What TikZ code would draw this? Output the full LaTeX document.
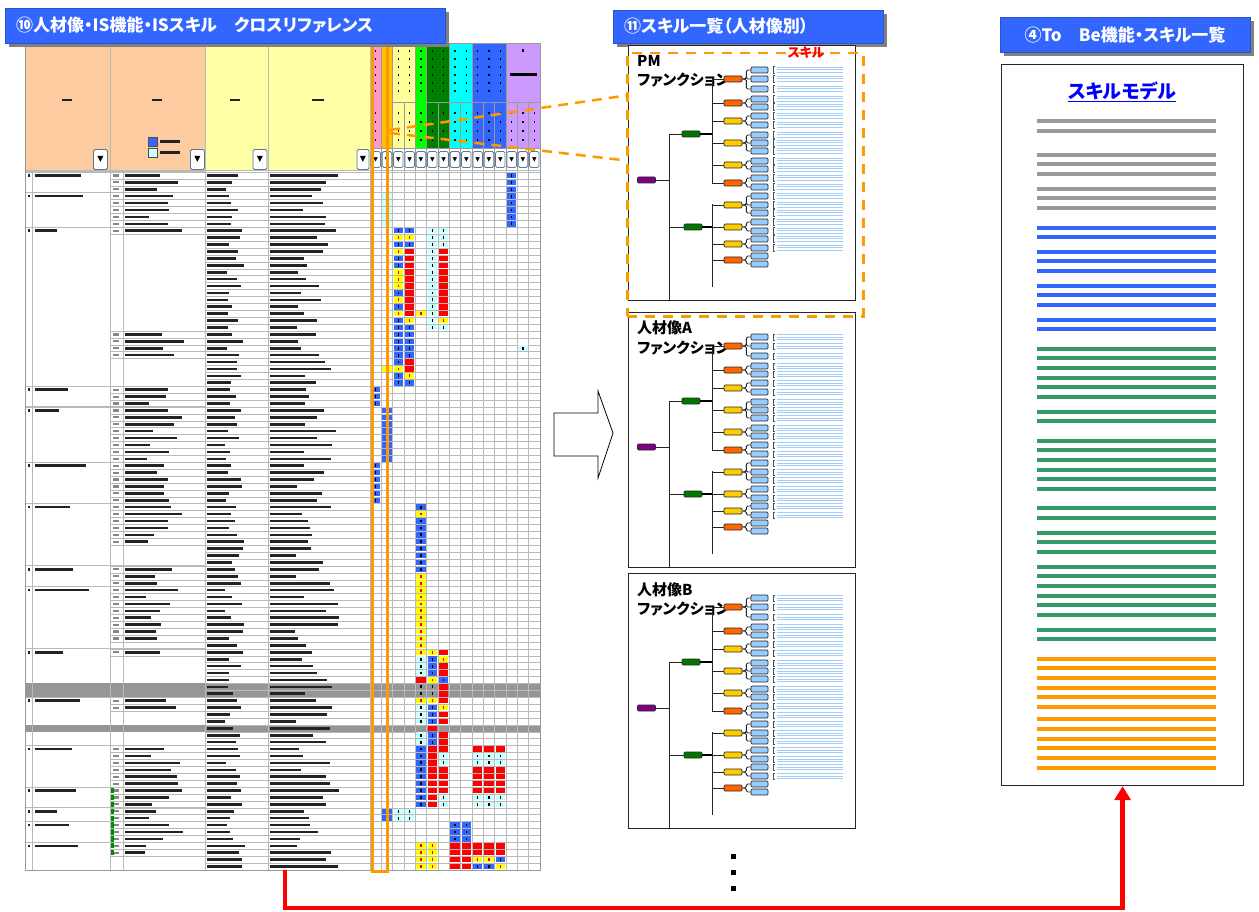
\documentclass[tikz,border=0pt]{standalone}
\usepackage{fontspec}
\newfontfamily\jp{Noto Sans CJK JP}[RawFeature=+palt]
\newfontfamily\dv{DejaVu Sans}
\usetikzlibrary{arrows.meta,shadows}
\definecolor{bnblue}{RGB}{51,102,255}
\definecolor{shgray}{RGB}{128,128,128}
\definecolor{peach}{RGB}{252,204,160}
\definecolor{pyel}{RGB}{255,255,165}
\definecolor{hpink}{RGB}{255,153,204}
\definecolor{hgold}{RGB}{255,192,0}
\definecolor{hlyel}{RGB}{255,255,153}
\definecolor{hbgreen}{RGB}{0,255,0}
\definecolor{hdgreen}{RGB}{0,128,0}
\definecolor{hcyan}{RGB}{0,255,255}
\definecolor{hblue}{RGB}{51,102,255}
\definecolor{hlav}{RGB}{204,153,255}
\definecolor{cblue}{RGB}{51,102,255}
\definecolor{cyel}{RGB}{255,255,0}
\definecolor{cred}{RGB}{255,0,0}
\definecolor{ccyan}{RGB}{204,255,255}
\definecolor{hiorange}{RGB}{255,153,0}
\definecolor{gridc}{RGB}{185,185,185}
\definecolor{bandg}{RGB}{150,150,150}
\definecolor{txtc}{RGB}{35,35,35}
\definecolor{tpurple}{RGB}{128,0,128}
\definecolor{tgreen}{RGB}{0,120,0}
\definecolor{torange}{RGB}{255,102,0}
\definecolor{tyellow}{RGB}{255,204,0}
\definecolor{tleaf}{RGB}{153,204,255}
\definecolor{tline}{RGB}{160,205,250}
\definecolor{lgray}{RGB}{153,153,153}
\definecolor{lblue}{RGB}{51,102,255}
\definecolor{lgreen}{RGB}{51,153,102}
\definecolor{lorange}{RGB}{255,153,0}
\definecolor{titleblue}{RGB}{0,0,255}
\definecolor{btnborder}{RGB}{90,120,150}

\newcommand\tbar[3]{\fill[txtc] (#1,{#2-1.3}) rectangle ({#1+#3},{#2+1.3});}
\newcommand\cellat[3]{%
  \def\tmpf{white}\def\tmpd{black}%
  \if#3B\def\tmpf{cblue}\fi
  \if#3Y\def\tmpf{cyel}\def\tmpd{red}\fi
  \if#3R\def\tmpf{cred}\def\tmpd{cred}\fi
  \if#3C\def\tmpf{ccyan}\fi
  \if#3G\def\tmpf{bandg}\fi
  \fill[fill=\tmpf] ({370+#2*11.333+0.9},{172+#1*6.911+0.7}) rectangle ({370+(#2+1)*11.333-0.9},{172+(#1+1)*6.911-0.7});
  \fill[fill=\tmpd] ({370+(#2+0.5)*11.333-0.8},{172+(#1+0.5)*6.911-1.4}) rectangle ({370+(#2+0.5)*11.333+0.8},{172+(#1+0.5)*6.911+1.4});}

\newcommand\skilltree[3]{%
\begin{scope}[shift={(628,#2)}]
\node[tlabel,anchor=base west] (#1la) at (9,22) {#3};
\node[tlabel,anchor=base west] (#1lb) at (9,41) {ファンクション};
\coordinate (#1tt) at (41,89);
\coordinate (#1tb) at (41,255);
\coordinate (#1at) at (84,34);
\coordinate (#1ab) at (84,138);
\coordinate (#1bt) at (84,159);
\coordinate (#1bb) at (84,242);
\node[tnode,fill=tpurple] (#1r) at (18.5,135) {};
\node[tnode,fill=tgreen] (#1g1) at (63,89) {};
\node[tnode,fill=tgreen] (#1g2) at (65,182) {};
\draw[tconn] (#1tt) -- (#1tb);
\draw[tconn] (#1r.east) -- (#1r.east -| #1tt);
\draw[tconn] (#1tt) -- (#1g1.west);
\draw[tconn] (#1g2.west -| #1tt) -- (#1g2.west);
\draw[tconn] (#1at) -- (#1ab);
\draw[tconn] (#1bt) -- (#1bb);
\draw[tthick] (#1g1.east) -- (#1g1.east -| #1at);
\draw[tthick] (#1g2.east) -- (#1g2.east -| #1bt);
\foreach \i/\yy/\cc in {1/34/torange,2/58/torange,3/76/tyellow,4/98/tyellow,5/120/tyellow,6/138/torange,7/160/tyellow,8/182/tyellow,9/199/tyellow,10/215/torange}{%
  \node[tnode,fill=\cc] (#1n\i) at (105,\yy) {};
  \draw[tconn] (#1n\i.west -| #1at) -- (#1n\i.west);
}
\foreach \kk/\pp/\yy in {1/1/25,2/1/34,3/1/44,4/2/54,5/2/62,6/3/71,7/3/80,8/4/90,9/4/98,10/4/106,11/5/116,12/5/124,13/6/133,14/6/142,15/7/151,16/7/160,17/7/168,18/8/177,19/8/186,20/9/194,21/9/203,22/10/211,23/10/219}{%
  \draw[tconn,rounded corners=1.5pt] (#1n\pp.east) -- ++(4,0) |- (131.5-8.5,\yy);
  \node[tleafn] (#1f\kk) at (131.5,\yy) {};
}
\foreach \yy in {25,34,44,54,62,71,80,90,98,106,116,124,133,142,151,160,168,177,186,194,203}{%
  \draw[black!70,line width=0.6pt] (147,\yy-3.2) -- (145,\yy-3.2) -- (145,\yy+3.2) -- (147,\yy+3.2);
  \foreach \dy in {0,2.6,5.2}{\draw[tline,line width=1pt] (149,\yy-2.6+\dy) -- (215,\yy-2.6+\dy);}
}
\end{scope}}

\begin{document}
\begin{tikzpicture}[x=1pt,y=-1pt,
  banner/.style={fill=bnblue,draw=bnblue!80!black,line width=0.5pt,drop shadow={shadow xshift=4pt,shadow yshift=-4pt,fill=shgray,opacity=1},anchor=north west,inner sep=0},
  btext/.style={text=white,font=\jp\bfseries\fontsize{17}{17}\selectfont,inner sep=0},
  panel/.style={draw=black!85,line width=1pt,fill=white,anchor=north west,minimum width=227pt,minimum height=255pt,inner sep=0},
  tnode/.style={draw=black!85,line width=0.7pt,rounded corners=1.2pt,minimum width=18pt,minimum height=6pt,inner sep=0},
  tleafn/.style={tnode,fill=tleaf,minimum width=17pt},
  tconn/.style={draw=black!85,line width=0.9pt},
  tthick/.style={draw=black,line width=1.6pt},
  tlabel/.style={font=\jp\bfseries\fontsize{15}{15}\selectfont,inner sep=0},
  ddbtn/.style={draw=btnborder,fill=white,rounded corners=1.5pt,line width=0.8pt,inner sep=0,font=\dv\fontsize{6}{6}\selectfont},
  odash/.style={draw=hiorange,line width=2.5pt,dash pattern=on 10pt off 7pt},
  skl/.style={line width=3.5pt}
]
\useasboundingbox (0,0) rectangle (1259,912);
\fill[white] (0,0) rectangle (1259,912);

% ===== cross-reference sheet =====
\fill[peach] (25,43) rectangle (205,171);
\fill[pyel] (205,43) rectangle (370,171);
\foreach \k/\cc in {0/hpink,1/hgold,2/hlyel,3/hlyel,4/hbgreen,5/hdgreen,6/hdgreen,7/hcyan,8/hcyan,9/hblue,10/hblue,11/hblue,12/hlav,13/hlav,14/hlav}{%
  \fill[\cc] ({370+\k*11.333},43) rectangle ({370+(\k+1)*11.333},148);}
\foreach \k in {1,...,14}{\draw[lgray,line width=0.6pt] ({370+\k*11.333},103) -- ({370+\k*11.333},171);}
\foreach \k in {1,2,4,5,7,9,12}{\draw[lgray,line width=0.8pt] ({370+\k*11.333},43) -- ({370+\k*11.333},103);}
\draw[lgray,line width=1pt] (393,103) -- (415,103) (427,103) -- (540,103);
\draw[lgray,line width=0.8pt] (370,148) -- (540,148);
\draw[gridc,line width=1pt] (110,43) -- (110,171) (205,43) -- (205,171) (268,43) -- (268,171) (370,43) -- (370,171) (25,171) -- (540,171);
\foreach \k in {0,...,11}{\foreach \yy in {50,58,66,74,82,90}{\fill[black] ({370+(\k+0.5)*11.333-0.8},\yy) rectangle ({370+(\k+0.5)*11.333+0.8},\yy+2.4);}}
\foreach \k in {0,...,14}{\foreach \yy in {112,121,130,139}{\fill[black] ({370+(\k+0.5)*11.333-0.8},\yy) rectangle ({370+(\k+0.5)*11.333+0.8},\yy+2.4);}}
\fill[black] (510,73) rectangle (537,76);
\fill[black] (522,49) rectangle (524,52);
\tbar{62}{100}{10}
\tbar{152}{100}{10}
\tbar{230}{100}{10}
\tbar{312}{100}{12}
\fill[cblue,draw=black!70] (148,137) rectangle (157,146);
\fill[ccyan,draw=black!70] (148,148) rectangle (157,157);
\tbar{160}{141.5}{20}
\tbar{160}{152.5}{20}
\node[ddbtn,minimum width=14pt,minimum height=20pt,font=\dv\fontsize{8}{8}\selectfont] (ddA) at (100.5,159.5) {▼};
\node[ddbtn,minimum width=14pt,minimum height=20pt,font=\dv\fontsize{8}{8}\selectfont] (ddB) at (197.5,159.5) {▼};
\node[ddbtn,minimum width=14pt,minimum height=20pt,font=\dv\fontsize{8}{8}\selectfont] (ddC) at (260,159.5) {▼};
\node[ddbtn,minimum width=12pt,minimum height=20pt,font=\dv\fontsize{8}{8}\selectfont] (ddD) at (363,159.5) {▼};
\foreach \k in {0,...,14}{\node[ddbtn,minimum width=9.5pt,minimum height=16pt] (dd\k) at ({370+(\k+0.5)*11.333},159.5) {▼};}

% data rows
\foreach \rw in {74,75,80}{\fill[bandg] (25,{172+\rw*6.911}) rectangle (540,{172+(\rw+1)*6.911});}
\foreach \rw in {0,...,100}{\draw[gridc,line width=0.5pt] (205,{172+\rw*6.911}) -- (540,{172+\rw*6.911});}
\foreach \rw in {0,1,2,3,4,5,6,7,8,23,24,25,26,31,32,33,34,35,36,37,38,39,40,41,42,43,44,45,46,47,48,49,50,51,52,53,57,58,59,60,61,62,63,64,65,66,67,69,76,77,83,84,85,86,87,88,89,90,91,92,93,94,95,96,97,98}{%
  \draw[gridc,line width=0.5pt] (110,{172+\rw*6.911}) -- (205,{172+\rw*6.911}) (110,{172+(\rw+1)*6.911}) -- (205,{172+(\rw+1)*6.911});}
\foreach \rw in {0,3,8,31,34,42,48,57,60,69,76,83,89,92,94,97}{\draw[gridc,line width=1.1pt] (25,{172+\rw*6.911}) -- (205,{172+\rw*6.911});}
\foreach \xx in {32,110,123,205,268,370}{\draw[gridc,line width=0.8pt] (\xx,171) -- (\xx,870);}
\foreach \k in {1,...,14}{\draw[gridc,line width=0.6pt] ({370+\k*11.333},171) -- ({370+\k*11.333},870);}

\pgfmathsetseed{11}
\foreach \rw in {0,...,100}{%
  \pgfmathsetmacro\yc{172+(\rw+0.5)*6.911}
  \pgfmathsetmacro\wa{18+20*rnd}
  \pgfmathsetmacro\wb{25+45*rnd}
  \tbar{207}{\yc}{\wa}
  \tbar{270}{\yc}{\wb}}
\foreach \rw in {0,1,2,3,4,5,6,7,8,23,24,25,26,31,32,33,34,35,36,37,38,39,40,41,42,43,44,45,46,47,48,49,50,51,52,53,57,58,59,60,61,62,63,64,65,66,67,69,76,77,83,84,85,86,87,88,89,90,91,92,93,94,95,96,97,98}{%
  \pgfmathsetmacro\yc{172+(\rw+0.5)*6.911}
  \pgfmathsetmacro\wc{20+40*rnd}
  \fill[txtc!55] (113,\yc-1.1) rectangle (119,\yc+1.1);
  \tbar{125}{\yc}{\wc}}
\foreach \rw in {0,3,8,31,34,42,48,57,60,69,76,83,89,92,94,97}{%
  \pgfmathsetmacro\yc{172+(\rw+0.5)*6.911}
  \pgfmathsetmacro\wd{20+35*rnd}
  \tbar{28}{\yc}{2}
  \tbar{35}{\yc}{\wd}}
\foreach \rw in {89,...,98}{\fill[green!55!black] (110.6,{172+\rw*6.911+0.8}) rectangle (113.5,{172+(\rw+1)*6.911-0.8});}

% coloured cells
\foreach \rw in {0,...,7}{\cellat{\rw}{12}{B}}
\foreach \rw in {3,...,7}{\cellat{\rw}{1}{C}}
\foreach \rw/\pa/\pb/\pc/\pd in {8/B/B/C/C,9/Y/Y/C/C,10/B/B/C/C,11/Y/R/C/R,12/B/R/C/R,13/B/R/C/R,14/Y/R/C/R,15/Y/R/C/R,16/Y/R/C/R,17/B/R/C/R,18/Y/R/C/R,19/B/R/C/R,20/Y/R/C/R,21/B/Y/C/Y,22/B/B/C/C}{%
  \cellat{\rw}{2}{\pa}\cellat{\rw}{3}{\pb}\cellat{\rw}{5}{\pc}\cellat{\rw}{6}{\pd}}
\foreach \rw/\cl/\ty in {20/1/D,20/4/Y,23/2/B,23/3/B,24/2/B,24/3/B,25/2/B,25/3/B,25/13/C,26/2/B,26/3/B,27/2/B,27/3/R,28/1/Y,28/2/Y,28/3/R,29/2/B,29/3/Y,30/2/B,30/3/B,48/4/B,49/4/Y,80/5/R}{\cellat{\rw}{\cl}{\ty}}
\foreach \rw in {31,32,33,42,43,44,45,46,47}{\cellat{\rw}{0}{B}}
\foreach \rw in {34,...,41}{\cellat{\rw}{1}{B}}
\foreach \rw in {50,...,57}{\cellat{\rw}{4}{B}}
\foreach \rw in {58,...,68}{\cellat{\rw}{4}{Y}}
\foreach \rw/\pa/\pb/\pc in {69/Y/Y/R,70/C/B/Y,71/C/B/R,72/C/B/R,73/R/Y/B,74/G/G/R,75/G/G/R,76/Y/Y/R,77/C/B/Y,78/C/B/R,79/C/B/R,81/C/B/R,82/C/B/R}{%
  \cellat{\rw}{4}{\pa}\cellat{\rw}{5}{\pb}\cellat{\rw}{6}{\pc}}
\foreach \rw/\pa/\pb/\pc/\pd in {83/B/R/R/R,84/B/R/C/C,85/B/R/C/C,86/B/R/R/R,87/B/R/R/R,88/B/R/R/R,89/B/R/R/R,90/B/R/C/C,91/B/R/C/C}{%
  \cellat{\rw}{4}{\pa}\cellat{\rw}{5}{\pb}\cellat{\rw}{6}{\pc}\cellat{\rw}{9}{\pd}\cellat{\rw}{10}{\pd}\cellat{\rw}{11}{\pd}}
\foreach \rw in {92,93}{\cellat{\rw}{1}{B}\cellat{\rw}{2}{C}\cellat{\rw}{3}{C}}
\foreach \rw in {94,95,96}{\cellat{\rw}{7}{B}\cellat{\rw}{8}{B}}
\foreach \rw/\pa/\pb/\pc in {97/R/R/R,98/R/R/R,99/Y/Y/B,100/B/B/Y}{%
  \cellat{\rw}{4}{Y}\cellat{\rw}{5}{Y}\cellat{\rw}{7}{R}\cellat{\rw}{8}{R}\cellat{\rw}{9}{\pa}\cellat{\rw}{10}{\pb}\cellat{\rw}{11}{\pc}}

\node[draw=lgray,line width=1pt,anchor=north west,minimum width=515pt,minimum height=827pt,inner sep=0] (xref) at (25,43) {};
\node[draw=hiorange,line width=2.5pt,anchor=north west,minimum width=15pt,minimum height=829pt,inner sep=0] (hl) at (371,41) {};

% ===== banners =====
\node[banner,minimum width=440pt,minimum height=35pt] (b1) at (5,8) {};
\node[btext,anchor=west] (b1t) at (16,25.5) {⑩人材像・IS機能・ISスキル　クロスリファレンス};
\node[banner,minimum width=270pt,minimum height=33pt] (b2) at (613,10) {};
\node[btext,anchor=west] (b2t) at (624,26.5) {⑪スキル一覧（人材像別）};
\node[banner,minimum width=250pt,minimum height=35pt] (b3) at (1000,17) {};
\node[btext] (b3t) at (1125,34.5) {④To　Be機能・スキル一覧};

% ===== skill panels =====
\node[panel] (pmbox) at (628,45) {};
\node[panel] (pabox) at (628,312) {};
\node[panel] (pbbox) at (628,573) {};
\skilltree{pm}{45}{PM}
\skilltree{pa}{312}{人材像A}
\skilltree{pb}{573}{人材像B}

\node[draw=hiorange,line width=2.5pt,dash pattern=on 10pt off 8pt,anchor=north west,minimum width=236pt,minimum height=263pt,inner sep=0] (pmzone) at (626,52) {};
\node[text=red,font=\jp\bfseries\fontsize{13}{13}\selectfont,inner sep=0] (skl) at (806,53) {スキル};
\coordinate (ds1) at (390,130);
\coordinate (de1) at (626,95.5);
\coordinate (ds2) at (390,133);
\coordinate (de2) at (626,160.5);
\draw[odash] (ds1) -- (de1);
\draw[odash] (ds2) -- (de2);

% block arrow
\draw[line width=0.8pt,fill=white] (554,413) -- (598,413) -- (598,391) -- (613,433) -- (598,478) -- (598,456) -- (554,456) -- cycle;

% continuation dots
\foreach \yy in {856,872,888}{\fill[black] (730.5,\yy-2.5) rectangle (735.5,\yy+2.5);}

% ===== To Be list =====
\node[draw=black!85,line width=1.2pt,fill=white,anchor=north west,minimum width=242pt,minimum height=721pt,inner sep=0] (tobebox) at (1001,64) {};
\node[text=titleblue,font=\jp\bfseries\fontsize{19}{19}\selectfont,inner sep=0] (smt) at (1122,92) {\underline{スキルモデル}};
\foreach \yy in {121,131,155,164,174,189,198,208}{\draw[lgray,skl] (1037,\yy) -- (1216,\yy);}
\foreach \yy in {228,237,252,261,271,286,295,305,320,329}{\draw[lblue,skl] (1037,\yy) -- (1216,\yy);}
\foreach \yy in {349,358,368,378,387,397,412,421,441,450,460,470,479,489,508,518,533,542,552,567,576,586,596,605,615,630,639}{\draw[lgreen,skl] (1037,\yy) -- (1216,\yy);}
\foreach \yy in {659,668,678,688,697,707,719,729,739,748,758,768}{\draw[lorange,skl] (1037,\yy) -- (1216,\yy);}

% ===== red connector =====
\coordinate (rs) at (285,870);
\draw[red,line width=4.5pt,-{Triangle[width=16pt,length=14pt]}] (rs) -- (285,908) -| (tobebox.south);
\end{tikzpicture}
\end{document}
